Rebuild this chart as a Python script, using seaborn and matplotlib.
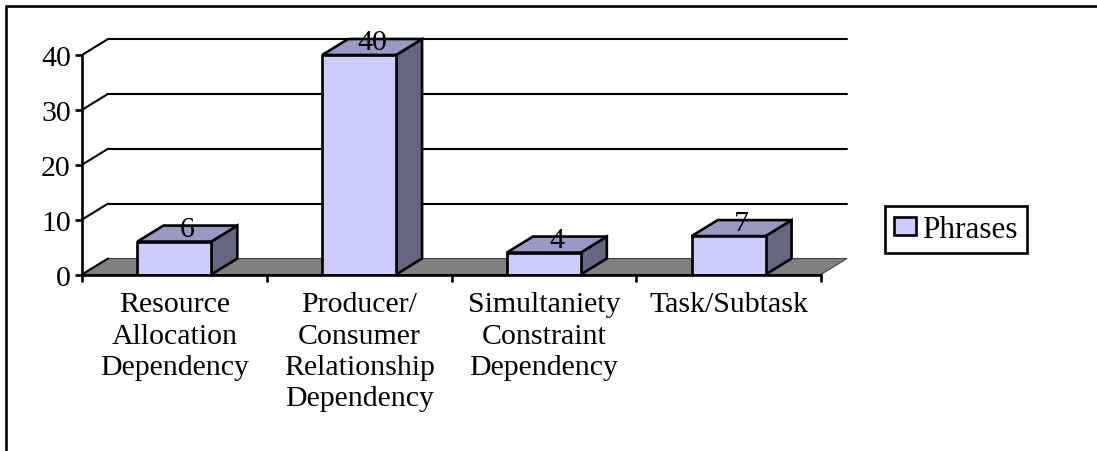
# Dependency types chart, old Excel style fake 3D bars
import pandas as pd
import seaborn as sns
import matplotlib.pyplot as plt
from matplotlib.lines import Line2D
from matplotlib.patches import Polygon

# Data
categories = ['Resource\nAllocation\nDependency',
              'Producer/\nConsumer\nRelationship\nDependency',
              'Simultaniety\nConstraint\nDependency',
              'Task/Subtask']
phrases = [6, 40, 4, 7]
series_name = 'Phrases'
y_ticks = [0, 10, 20, 30, 40]

df = pd.DataFrame({'category': categories, 'count': phrases, 'series': series_name})

# Colours
front_color = '#CCCCFF'
top_color = '#9999C6'
side_color = '#666680'
floor_color = '#808080'

sns.set_style('white')
plt.rcParams['font.family'] = ['Liberation Serif', 'DejaVu Serif']
plt.rcParams['text.color'] = 'black'
plt.rcParams['xtick.labelcolor'] = 'black'
plt.rcParams['ytick.labelcolor'] = 'black'

font_size = 21.5
bar_lw = 1.9
grid_lw = 1.5

W, H = 1097, 452
fig = plt.figure(figsize=(W / 100, H / 100), dpi=100)
ax = fig.add_axes([82 / W, 1 - 275.5 / H, 739 / W, 219.5 / H])

sns.barplot(data=df, x='category', y='count', hue='series', palette=[front_color],
            width=0.4, dodge=False, edgecolor='black', linewidth=bar_lw, saturation=1, ax=ax, zorder=3)

ax.set_xlim(-0.5, len(categories) - 0.5)
ax.set_ylim(0, 40)
ax.set_xlabel('')
ax.set_ylabel('')

# depth of the fake 3D, 26px across and 16px up
dx = 26 / (739 / len(categories))
dy = 16 / (219.5 / 40)
x0, x1 = ax.get_xlim()

# floor and back grid
ax.add_patch(Polygon([(x0, 0), (x0 + dx, dy), (x1 + dx, dy), (x1, 0)], closed=True,
                     facecolor=floor_color, edgecolor='#404040', linewidth=0.8,
                     clip_on=False, zorder=1))
for v in y_ticks:
    ax.plot([x0, x0 + dx], [v, v + dy], color='black', lw=grid_lw, clip_on=False, zorder=1.5)
    if v > 0:
        ax.plot([x0 + dx, x1 + dx], [v + dy, v + dy], color='black', lw=grid_lw, clip_on=False, zorder=1.5)

# side and top of every bar, taken from the bars seaborn drew
for bar, val in zip(ax.containers[0], phrases):
    left = bar.get_x()
    right = left + bar.get_width()
    top = bar.get_height()
    ax.add_patch(Polygon([(right, 0), (right + dx, dy), (right + dx, top + dy), (right, top)],
                         closed=True, facecolor=side_color, edgecolor='black', linewidth=bar_lw,
                         clip_on=False, zorder=2.5))
    ax.add_patch(Polygon([(left, top), (left + dx, top + dy), (right + dx, top + dy), (right, top)],
                         closed=True, facecolor=top_color, edgecolor='black', linewidth=bar_lw,
                         clip_on=False, zorder=2.5))
    ax.text((left + right + dx) / 2, top + dy / 2 + 0.9, str(val), ha='center', va='center',
            fontsize=font_size, color='black', clip_on=False, zorder=5)

# axes
for name in ['top', 'right']:
    ax.spines[name].set_visible(False)
for name in ['left', 'bottom']:
    ax.spines[name].set_linewidth(bar_lw)
    ax.spines[name].set_color('black')
    ax.spines[name].set_zorder(4)

ax.set_yticks(y_ticks)
ax.tick_params(axis='y', length=5, width=bar_lw, pad=3, labelsize=font_size, left=True, color='black')
centers = list(range(len(categories)))
ax.set_xticks([c - 0.5 for c in centers] + [centers[-1] + 0.5])
ax.set_xticklabels([])
ax.set_xticks(centers, categories, minor=True)
ax.tick_params(axis='x', which='major', length=5, width=bar_lw, bottom=True, color='black')
ax.tick_params(axis='x', which='minor', length=0, pad=12, labelsize=font_size, bottom=False)
for lab in ax.get_xticklabels(minor=True):
    lab.set_linespacing(1.27)
    lab.set_verticalalignment('top')

# legend
sns.move_legend(ax, loc='center left', bbox_to_anchor=(885 / W, 1 - 230.5 / H),
                bbox_transform=fig.transFigure, title=None, frameon=True, fancybox=False,
                framealpha=1, edgecolor='black', fontsize=22.5, handlelength=0.7, handleheight=0.55,
                handletextpad=0.2, borderpad=0.3, borderaxespad=0)
ax.get_legend().get_frame().set_linewidth(bar_lw)

# border of the picture, only left and top show
fig.add_artist(Line2D([5.5 / W, 5.5 / W], [0, 1 - 6.5 / H], color='black', lw=bar_lw))
fig.add_artist(Line2D([5.5 / W, 1], [1 - 6.5 / H, 1 - 6.5 / H], color='black', lw=bar_lw))

plt.savefig('out.png', dpi=100)
